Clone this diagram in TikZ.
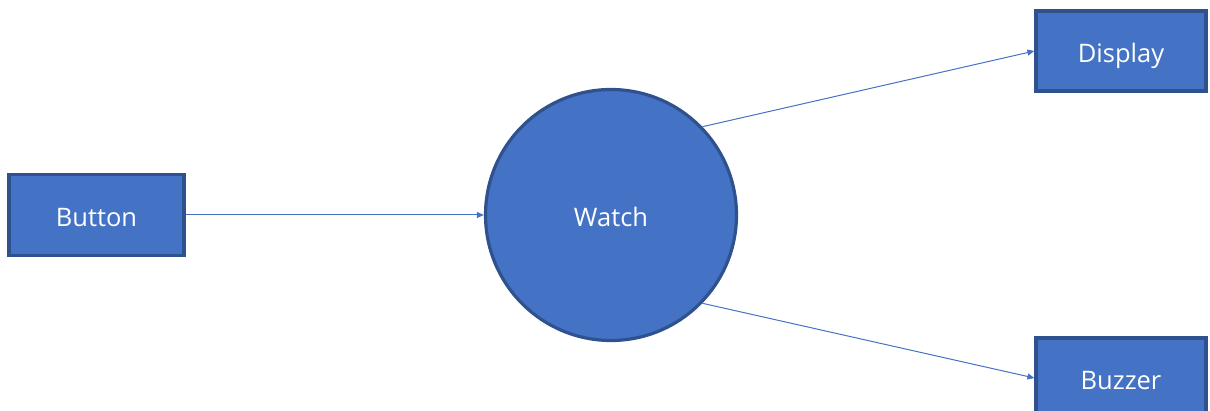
\documentclass[tikz,border=0pt]{standalone}
\usepackage{fontspec}
\setmainfont{Open Sans}
\usetikzlibrary{arrows.meta}
\definecolor{fillblue}{HTML}{4472C4}
\definecolor{edgeblue}{HTML}{2F528F}
\begin{document}
\begin{tikzpicture}[x=1pt,y=-1pt,
  box/.style={draw=edgeblue,fill=fillblue,line width=3.2pt,rectangle,inner sep=0pt,
    text=white,font=\fontsize{25.5}{30}\selectfont,text height=23pt,text depth=0pt},
  conn/.style={draw=fillblue,line width=1pt,-{Triangle[length=7pt,width=6pt]}}]
\useasboundingbox (0,0) rectangle (1210,411);
\clip (0,0) rectangle (1210,411);
\node[box,minimum width=175pt,minimum height=81pt] (btn) at (96.5,215) {Button};
\node[box,minimum width=170pt,minimum height=80pt] (disp) at (1121,51) {Display};
\node[box,minimum width=170pt,minimum height=80pt] (buzz) at (1121,378) {Buzzer};
\node[box,circle,minimum size=251pt] (w) at (611,215) {Watch};
\draw[conn] (btn.east) -- (w.west);
\draw[conn] (w.44) -- (disp.west);
\draw[conn] (w.-44.5) -- (buzz.west);
\end{tikzpicture}
\end{document}
